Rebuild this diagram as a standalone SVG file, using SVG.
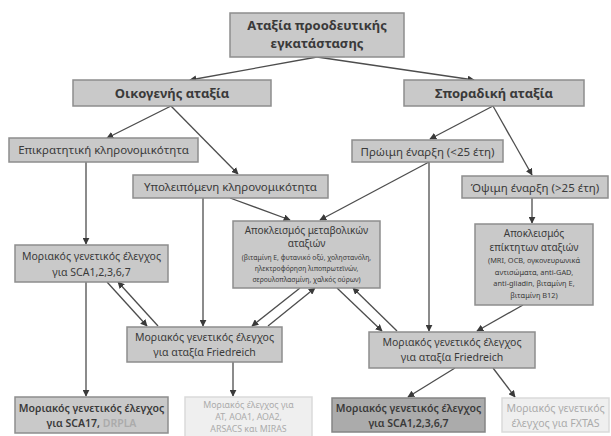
<svg xmlns="http://www.w3.org/2000/svg" width="611" height="436" viewBox="0 0 611 436">
<defs>
<style>
.box{fill:#c9c9c9;stroke:#8d8d8d;stroke-width:1.5}
.dark{fill:#ababab;stroke:#858585;stroke-width:1.5}
.light{fill:#efefef;stroke:#dadada;stroke-width:1.5}
text{font-family:"Noto Sans","Liberation Sans",sans-serif;fill:#3a3a3a;text-anchor:middle}
.t1{font-size:13px;font-weight:bold}
.t2{font-size:11.5px}
.t3{font-size:10.5px;font-weight:600}
.t3r{font-size:10.5px}
.h{font-size:10px}
.sm{font-size:8.8px}
.s{font-size:6.8px}
.s2{font-size:7.4px}
.lt{fill:#ababab}
.c line{stroke:#4d4d4d;stroke-width:1.3;marker-end:url(#ah)}
</style>
<marker id="ah" viewBox="0 0 10 10" refX="9" refY="5" markerWidth="7" markerHeight="7" markerUnits="userSpaceOnUse" orient="auto">
<path d="M0,0 L10,5 L0,10 z" fill="#3a3a3a"/>
</marker>
</defs>
<rect width="611" height="436" fill="#ffffff"/>
<g class="c" id="connectors">
<line x1="317" y1="57" x2="190" y2="80"/>
<line x1="317" y1="57" x2="474" y2="80"/>
<line x1="171" y1="106" x2="107" y2="138"/>
<line x1="171" y1="106" x2="238" y2="174"/>
<line x1="493" y1="106" x2="430" y2="139"/>
<line x1="493" y1="106" x2="532" y2="175"/>
<line x1="86" y1="162" x2="86" y2="244"/>
<line x1="203" y1="198" x2="203" y2="326"/>
<line x1="230" y1="198" x2="290" y2="220"/>
<line x1="429" y1="162" x2="320" y2="220"/>
<line x1="429" y1="162" x2="429" y2="331"/>
<line x1="532" y1="198" x2="532" y2="223"/>
<line x1="86" y1="282" x2="86" y2="396"/>
<line x1="107" y1="282" x2="147" y2="326"/>
<line x1="158" y1="326" x2="118" y2="282"/>
<line x1="300" y1="288" x2="252" y2="326"/>
<line x1="268" y1="326" x2="315" y2="288"/>
<line x1="337" y1="288" x2="382" y2="331"/>
<line x1="397" y1="331" x2="353" y2="288"/>
<line x1="523" y1="305" x2="477" y2="331"/>
<line x1="233" y1="362" x2="233" y2="396"/>
<line x1="455" y1="368" x2="408" y2="397"/>
<line x1="493" y1="368" x2="515" y2="397"/>
</g>
<g id="n-top">
<rect class="box" x="230" y="13" width="174" height="44"/>
<text class="t1" x="317" y="30">Αταξία προοδευτικής</text>
<text class="t1" x="317" y="48">εγκατάστασης</text>
</g>
<g id="n-oikogenis">
<rect class="box" x="73" y="80" width="198" height="26"/>
<text class="t1" x="172" y="97.5">Οικογενής αταξία</text>
</g>
<g id="n-sporadiki">
<rect class="box" x="404" y="80" width="180" height="26"/>
<text class="t1" x="494" y="97.5">Σποραδική αταξία</text>
</g>
<g id="n-epikratitiki">
<rect class="box" x="9" y="138" width="189" height="24"/>
<text class="t2" x="103.5" y="154">Επικρατητική κληρονομικότητα</text>
</g>
<g id="n-ypoleipomeni">
<rect class="box" x="133" y="175" width="195" height="23"/>
<text class="t2" x="230.5" y="190.5">Υπολειπόμενη κληρονομικότητα</text>
</g>
<g id="n-proimi">
<rect class="box" x="352" y="140" width="151" height="22"/>
<text class="t2" x="427.5" y="155.5">Πρώιμη έναρξη (&lt;25 έτη)</text>
</g>
<g id="n-opsimi">
<rect class="box" x="462" y="176" width="146" height="22"/>
<text class="t2" x="535" y="191.5">Όψιμη έναρξη (&gt;25 έτη)</text>
</g>
<g id="n-metabolic">
<rect class="box" x="233" y="221" width="147" height="67"/>
<text class="h" x="306.5" y="234">Αποκλεισμός μεταβολικών</text>
<text class="h" x="306.5" y="247">αταξιών</text>
<text class="s" x="306.5" y="259.5">(βιταμίνη Ε, φυτανικό οξύ, χοληστανόλη,</text>
<text class="s" x="306.5" y="270.5">ηλεκτροφόρηση λιποπρωτεϊνών,</text>
<text class="s" x="306.5" y="281.5">σερουλοπλασμίνη, χαλκός ούρων)</text>
</g>
<g id="n-acquired">
<rect class="box" x="475" y="224" width="118" height="81"/>
<text class="h" x="534" y="237">Αποκλεισμός</text>
<text class="h" x="534" y="250.5">επίκτητων αταξιών</text>
<text class="s2" x="534" y="263">(MRI, OCB, ογκονευρωνικά</text>
<text class="s2" x="534" y="274.5">αντισώματα, anti-GAD,</text>
<text class="s2" x="534" y="286">anti-gliadin, βιταμίνη Ε,</text>
<text class="s2" x="534" y="297.5">βιταμίνη Β12)</text>
</g>
<g id="n-sca-left">
<rect class="box" x="15" y="245" width="153" height="37"/>
<text class="t3r" x="91.5" y="260">Μοριακός γενετικός έλεγχος</text>
<text class="t3r" x="91.5" y="275.5">για SCA1,2,3,6,7</text>
</g>
<g id="n-friedreich-mid">
<rect class="box" x="127" y="327" width="155" height="35"/>
<text class="t3r" x="204.5" y="341">Μοριακός γενετικός έλεγχος</text>
<text class="t3r" x="204.5" y="356">για αταξία Friedreich</text>
</g>
<g id="n-friedreich-right">
<rect class="box" x="369" y="332" width="166" height="36"/>
<text class="t3r" x="452" y="346">Μοριακός γενετικός έλεγχος</text>
<text class="t3r" x="452" y="361">για αταξία Friedreich</text>
</g>
<g id="n-sca17">
<rect class="box" x="15" y="397" width="153" height="36"/>
<text class="t3" x="91.5" y="411.5">Μοριακός γενετικός έλεγχος</text>
<text class="t3" x="91.5" y="426.5">για SCA17, <tspan class="lt">DRPLA</tspan></text>
</g>
<g id="n-at">
<rect class="light" x="185" y="397" width="127" height="45"/>
<text class="sm lt" x="248.5" y="407.5">Μοριακός έλεγχος για</text>
<text class="sm lt" x="248.5" y="419.5">AT, AOA1, AOA2,</text>
<text class="sm lt" x="248.5" y="431.5">ARSACS και MIRAS</text>
</g>
<g id="n-sca-bottom">
<rect class="dark" x="332" y="398" width="153" height="34"/>
<text class="t3" x="408.5" y="412">Μοριακός γενετικός έλεγχος</text>
<text class="t3" x="408.5" y="426.5">για SCA1,2,3,6,7</text>
</g>
<g id="n-fxtas">
<rect class="light" x="502" y="398" width="107" height="34"/>
<text class="t3r lt" x="555.5" y="412">Μοριακός γενετικός</text>
<text class="t3r lt" x="555.5" y="426.5">έλεγχος για FXTAS</text>
</g>
</svg>
